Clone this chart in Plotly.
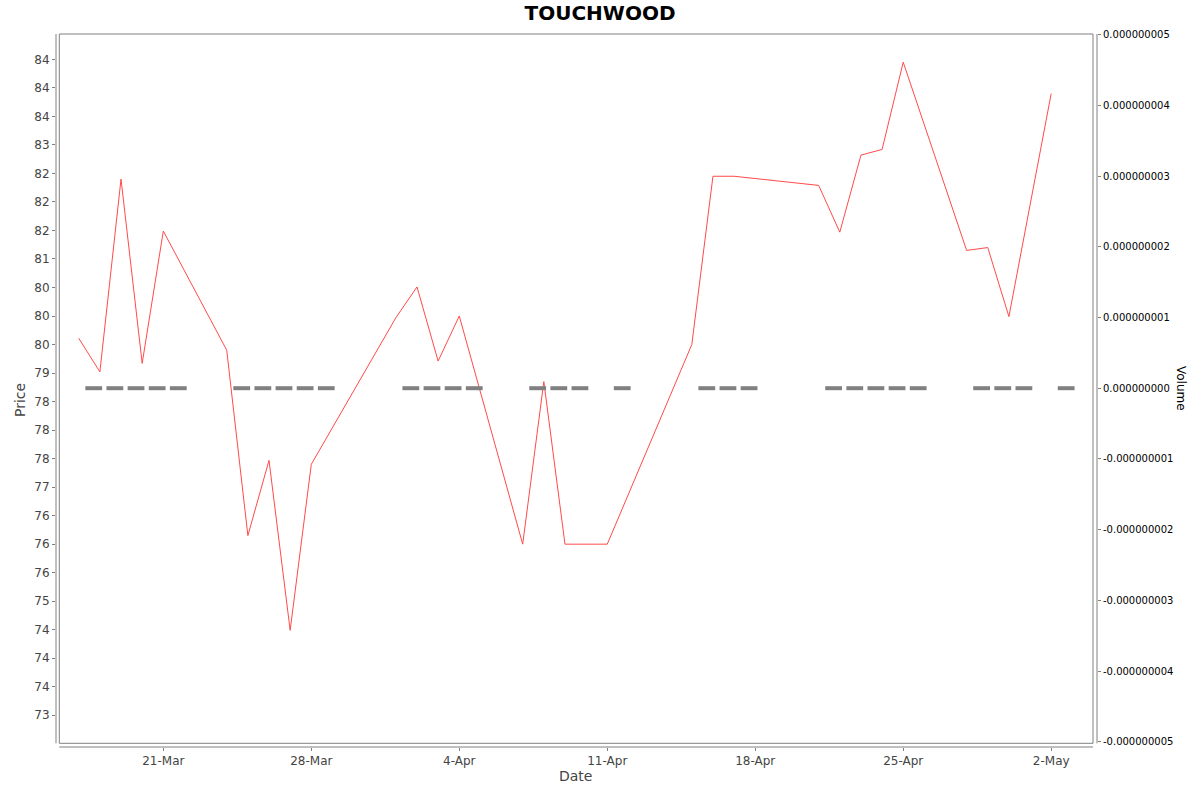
import plotly.graph_objects as go
import pandas as pd

# ---- data ----
dates = ["2025-03-17", "2025-03-18", "2025-03-19", "2025-03-20", "2025-03-21",
         "2025-03-24", "2025-03-25", "2025-03-26", "2025-03-27", "2025-03-28",
         "2025-04-01", "2025-04-02", "2025-04-03", "2025-04-04",
         "2025-04-07", "2025-04-08", "2025-04-09", "2025-04-11",
         "2025-04-15", "2025-04-16", "2025-04-17",
         "2025-04-21", "2025-04-22", "2025-04-23", "2025-04-24", "2025-04-25",
         "2025-04-28", "2025-04-29", "2025-04-30", "2025-05-02"]
prices = [79.61, 79.02, 82.40, 79.17, 81.49,
          79.40, 76.15, 77.47, 74.49, 77.40,
          79.97, 80.51, 79.21, 80.00,
          76.00, 78.85, 76.00, 76.00,
          79.50, 82.45, 82.45,
          82.29, 81.47, 82.82, 82.92, 84.45,
          81.15, 81.20, 79.99, 83.90]
volumes = [0, 0, 0, 0, 0,
           0, 0, 0, 0, 0,
           0, 0, 0, 0,
           0, 0, 0, 0,
           0, 0, 0,
           0, 0, 0, 0, 0,
           0, 0, 0, 0]

x_tick_dates = ["2025-03-21", "2025-03-28", "2025-04-04", "2025-04-11",
                "2025-04-18", "2025-04-25", "2025-05-02"]
x_tick_labels = ["21-Mar", "28-Mar", "4-Apr", "11-Apr", "18-Apr", "25-Apr", "2-May"]

y_tick_values = [73.0, 73.5, 74.0, 74.5, 75.0, 75.5, 76.0, 76.5, 77.0, 77.5, 78.0, 78.5,
                 79.0, 79.5, 80.0, 80.5, 81.0, 81.5, 82.0, 82.5, 83.0, 83.5, 84.0, 84.5]
y_tick_labels = ["73", "74", "74", "74", "75", "76", "76", "76", "77", "78", "78", "78",
                 "79", "80", "80", "80", "81", "82", "82", "82", "83", "84", "84", "84"]

vol_tick_values = [-5e-9, -4e-9, -3e-9, -2e-9, -1e-9, 0, 1e-9, 2e-9, 3e-9, 4e-9, 5e-9]
vol_tick_labels = ["-0.000000005", "-0.000000004", "-0.000000003", "-0.000000002",
                   "-0.000000001", "0.000000000", "0.000000001", "0.000000002",
                   "0.000000003", "0.000000004", "0.000000005"]

# ---- styling ----
FONT = "DejaVu Sans"
GRAY = "#808080"
bar_shift = pd.Timedelta(hours=17)  # bar placement within the day

vol_x = [pd.Timestamp(d) + bar_shift for d in dates]

fig = go.Figure()
fig.add_trace(go.Scatter(
    x=vol_x, y=volumes, yaxis="y2", mode="markers",
    marker=dict(symbol="line-ew", size=12, line=dict(width=4, color=GRAY)),
    hoverinfo="skip", showlegend=False))
fig.add_trace(go.Scatter(
    x=dates, y=prices, mode="lines",
    line=dict(color="#FF4A4A", width=1), showlegend=False))

tickfont = dict(family=FONT, size=12, color="#444444")

fig.update_layout(
    width=1200, height=792,
    margin=dict(l=56, r=103, t=34, b=45),
    paper_bgcolor="white", plot_bgcolor="white",
    title=dict(text="TOUCHWOOD", x=0.5, xanchor="center", y=1 - 13 / 792,
               yanchor="middle", yref="container",
               font=dict(family=FONT, size=20, color="black", weight="bold")),
    xaxis=dict(type="date",
               range=["2025-03-15 22:10", "2025-05-04 04:00"],
               tickvals=x_tick_dates, ticktext=x_tick_labels,
               showgrid=False, zeroline=False, showline=False,
               ticks="outside", ticklen=3, tickcolor=GRAY, tickfont=tickfont),
    yaxis=dict(range=[72.444, 84.944],
               tickvals=y_tick_values, ticktext=y_tick_labels,
               showgrid=False, zeroline=False, showline=False,
               ticks="outside", ticklen=3, tickcolor=GRAY, tickfont=tickfont),
    yaxis2=dict(overlaying="y", side="right",
                range=[-5.075e-9, 5.01e-9],
                tickvals=vol_tick_values, ticktext=vol_tick_labels,
                showgrid=False, zeroline=False, showline=False,
                ticks="outside", ticklen=3, tickcolor=GRAY,
                tickfont=dict(family=FONT, size=10, color="black")),
)

fx0 = (59.3 - 56) / 1041
fx1 = (1093 - 56) / 1041
fy0 = (747 - 743.3) / 713

shapes = [
    dict(type="rect", xref="paper", yref="paper", x0=fx0, x1=fx1, y0=fy0, y1=1,
         line=dict(color=GRAY, width=1)),
    dict(type="line", xref="paper", yref="paper", x0=0, x1=0, y0=fy0, y1=1,
         line=dict(color=GRAY, width=1)),
    dict(type="line", xref="paper", yref="paper", x0=1, x1=1, y0=fy0, y1=1,
         line=dict(color=GRAY, width=1)),
    dict(type="line", xref="paper", yref="paper", x0=fx0, x1=fx1, y0=0, y1=0,
         line=dict(color=GRAY, width=1)),
]
fig.update_layout(shapes=shapes)

annotations = [
    dict(text="Price", xref="paper", yref="paper", x=(20 - 56) / 1041, y=(747 - 400) / 713,
         textangle=-90, showarrow=False, xanchor="center", yanchor="middle",
         font=dict(family=FONT, size=14, color="#444444")),
    dict(text="Volume", xref="paper", yref="paper", x=(1181 - 56) / 1041, y=(747 - 388) / 713,
         textangle=90, showarrow=False, xanchor="center", yanchor="middle",
         font=dict(family=FONT, size=12, color="black")),
    dict(text="Date", xref="paper", yref="paper", x=(575 - 56) / 1041, y=-(776 - 747) / 713,
         showarrow=False, xanchor="center", yanchor="middle",
         font=dict(family=FONT, size=14, color="#444444")),
]
fig.update_layout(annotations=annotations)

fig.write_html("out.html",
               config={"displayModeBar": False},
               post_script="document.body.style.margin='0';document.body.style.overflow='hidden';")
